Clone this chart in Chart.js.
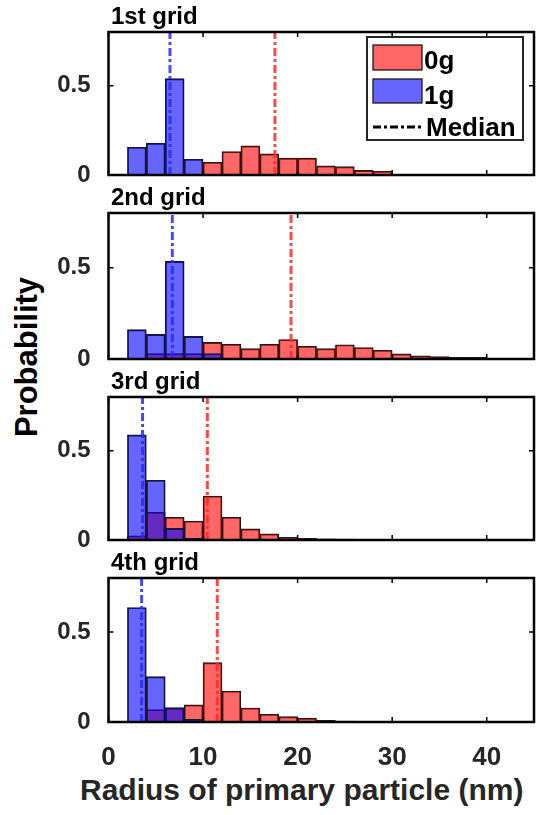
<!DOCTYPE html>
<html>
<head>
<meta charset="utf-8">
<script src="https://cdn.jsdelivr.net/npm/chart.js@4.4.1/dist/chart.umd.min.js"></script>
<style>
  body { margin: 0; background: #fff; }
  #wrap { position: relative; width: 559px; height: 815px; overflow: hidden;
          font-family: 'Liberation Sans', Arial, sans-serif; font-weight: bold; }
  #wrap canvas { position: absolute; left: 0; }
  .ptitle { position: absolute; left: 111px; font-size: 24px; line-height: 1; color: #000; white-space: nowrap; }
  #xtitle { position: absolute; left: 80px; top: 775px; font-size: 30px; line-height: 1; color: #262626; white-space: nowrap; }
  #ytitle { position: absolute; left: 26px; top: 357px; font-size: 31px; line-height: 1; color: #000; white-space: nowrap;
            transform: translate(-50%, -50%) rotate(-90deg); }
</style>
</head>
<body>
<div id="wrap">
  <div id="xtitle">Radius of primary particle (nm)</div>
  <div id="ytitle">Probability</div>
</div>
<script>
// histogram bins are 2 nm wide, starting at 2 nm
const binCenters = [3, 5, 7, 9, 11, 13, 15, 17, 19, 21, 23, 25, 27, 29, 31, 33, 35, 37, 39];

// 0g (red) probability per bin, one array per grid
const red1 = [0, 0, 0, 0, 0.071, 0.131, 0.163, 0.118, 0.094, 0.094, 0.051, 0.047, 0.026, 0.021, 0, 0, 0, 0, 0];
const red2 = [0, 0.03, 0.03, 0.03, 0.091, 0.081, 0.057, 0.081, 0.107, 0.070, 0.057, 0.078, 0.063, 0.048, 0.028, 0.017, 0.013, 0.009, 0.009];
const red3 = [0.024, 0.155, 0.127, 0.106, 0.246, 0.127, 0.062, 0.034, 0.015, 0.009, 0.006, 0.005, 0.003, 0, 0, 0, 0, 0, 0];
const red4 = [0, 0.069, 0.080, 0.095, 0.330, 0.172, 0.078, 0.043, 0.030, 0.021, 0.009, 0.005, 0.003, 0, 0, 0, 0, 0, 0];

// 1g (blue)
const blue1 = [0.155, 0.178, 0.539, 0.088, 0, 0, 0, 0, 0, 0, 0, 0, 0, 0, 0, 0, 0, 0, 0];
const blue2 = [0.161, 0.135, 0.535, 0.124, 0.03, 0, 0, 0, 0, 0, 0, 0, 0, 0, 0, 0, 0, 0, 0];
const blue3 = [0.588, 0.334, 0.065, 0.009, 0, 0, 0, 0, 0, 0, 0, 0, 0, 0, 0, 0, 0, 0, 0];
const blue4 = [0.636, 0.252, 0.078, 0.015, 0, 0, 0, 0, 0, 0, 0, 0, 0, 0, 0, 0, 0, 0, 0];

const median0g = [17.6, 19.3, 10.45, 11.5];
const median1g = [6.5, 6.75, 3.6, 3.5];

const panelTitles = ['1st grid', '2nd grid', '3rd grid', '4th grid'];
const legendLabels = ['0g', '1g', 'Median'];
const xTicks = [0, 10, 20, 30, 40];
const yTicks = [0, 0.5];
const xMax = 45;
const yMax = 0.8;

const reds = [red1, red2, red3, red4];
const blues = [blue1, blue2, blue3, blue4];

// layout of the four stacked panels (page pixels)
const plotLeft = 108.5;
const plotRight = 534;
const plotTops = [32, 213, 397, 578];
const plotBottoms = [175, 359, 540, 722];
const FONT = "'Liberation Sans', Arial, sans-serif";
const DASH = [8, 3, 3, 3];

const wrap = document.getElementById('wrap');

// black box round the axes with inward ticks on all four sides
const framePlugin = {
  id: 'frame',
  afterDatasetsDraw(chart) {
    const { ctx, chartArea: a, scales: { x, y } } = chart;
    ctx.save();
    ctx.strokeStyle = '#000';
    ctx.lineWidth = 1.5;
    ctx.beginPath();
    xTicks.forEach(v => {
      const px = x.getPixelForValue(v);
      ctx.moveTo(px, a.bottom); ctx.lineTo(px, a.bottom - 5);
      ctx.moveTo(px, a.top); ctx.lineTo(px, a.top + 5);
    });
    yTicks.forEach(v => {
      const py = y.getPixelForValue(v);
      ctx.moveTo(a.left, py); ctx.lineTo(a.left + 5, py);
      ctx.moveTo(a.right, py); ctx.lineTo(a.right - 5, py);
    });
    ctx.stroke();
    ctx.lineWidth = 2.5;
    ctx.strokeRect(a.left, a.top, a.right - a.left, a.bottom - a.top);
    ctx.restore();
  }
};

// legend box inside the first panel
const boxLegend = {
  id: 'boxLegend',
  afterDraw(chart) {
    const { ctx, chartArea: a } = chart;
    const left = a.right - 167, top = a.top + 5, w = 156, h = 103;
    ctx.save();
    ctx.fillStyle = '#fff';
    ctx.fillRect(left, top, w, h);
    ctx.strokeStyle = '#262626';
    ctx.lineWidth = 2;
    ctx.strokeRect(left, top, w, h);

    ctx.lineWidth = 1.3;
    ctx.strokeStyle = '#1a1a1a';
    ctx.fillStyle = 'rgba(255,0,0,0.6)';
    ctx.fillRect(left + 6, top + 8, 49, 25);
    ctx.strokeRect(left + 6, top + 8, 49, 25);
    ctx.fillStyle = 'rgba(0,0,255,0.6)';
    ctx.fillRect(left + 6, top + 42, 49, 24);
    ctx.strokeRect(left + 6, top + 42, 49, 24);

    ctx.strokeStyle = '#000';
    ctx.lineWidth = 3;
    ctx.setLineDash(DASH);
    ctx.beginPath();
    ctx.moveTo(left + 6, top + 90);
    ctx.lineTo(left + 56, top + 90);
    ctx.stroke();
    ctx.setLineDash([]);

    ctx.fillStyle = '#000';
    ctx.font = 'bold 26px ' + FONT;
    ctx.textBaseline = 'alphabetic';
    ctx.fillText(legendLabels[0], left + 57, top + 32);
    ctx.fillText(legendLabels[1], left + 57, top + 67);
    ctx.fillText(legendLabels[2], left + 59, top + 99);
    ctx.restore();
  }
};

const makePanel = i => {
  const isLast = i === 3;
  const padTop = 10;
  const bottomSpace = isLast ? 60 : 14;
  const canvas = document.createElement('canvas');
  canvas.width = 559;
  canvas.height = plotBottoms[i] - plotTops[i] + padTop + bottomSpace;
  canvas.style.top = (plotTops[i] - padTop) + 'px';
  wrap.appendChild(canvas);

  const title = document.createElement('div');
  title.className = 'ptitle';
  title.textContent = panelTitles[i];
  title.style.top = (plotTops[i] - 28) + 'px';
  wrap.appendChild(title);

  const medianLine = (xv, color) => ({
    type: 'line',
    data: [{ x: xv, y: 0 }, { x: xv, y: yMax }],
    borderColor: color,
    borderWidth: 3,
    borderDash: DASH,
    pointRadius: 0,
    order: 0
  });

  const histBars = (label, values, color, order) => ({
    type: 'bar',
    label: label,
    data: binCenters.map((c, k) => ({ x: c, y: values[k] })),
    backgroundColor: color,
    borderColor: '#1a1a1a',
    borderWidth: 1.2,
    grouped: false,
    barPercentage: 1,
    categoryPercentage: 1,
    order: order
  });

  new Chart(canvas, {
    type: 'bar',
    data: {
      datasets: [
        medianLine(median1g[i], 'rgba(40,40,255,0.85)'),
        medianLine(median0g[i], 'rgba(255,40,40,0.85)'),
        histBars('1g', blues[i], 'rgba(0,0,255,0.6)', 1),
        histBars('0g', reds[i], 'rgba(255,0,0,0.6)', 2)
      ]
    },
    options: {
      responsive: false,
      animation: false,
      layout: { padding: { top: padTop, bottom: isLast ? 0 : bottomSpace, left: 0, right: 559 - plotRight } },
      plugins: { legend: { display: false }, tooltip: { enabled: false } },
      scales: {
        x: {
          type: 'linear',
          min: 0,
          max: xMax,
          offset: false,
          display: isLast,
          grid: { display: false },
          border: { display: false },
          afterBuildTicks: s => { s.ticks = xTicks.map(v => ({ value: v })); },
          afterFit: s => {
            s.paddingLeft = 0; s.paddingRight = 0;
            if (isLast) s.height = bottomSpace;
          },
          ticks: {
            color: '#262626',
            font: { family: FONT, size: 26, weight: 'bold' },
            padding: 12,
            maxRotation: 0,
            autoSkip: false
          }
        },
        y: {
          min: 0,
          max: yMax,
          grid: { display: false },
          border: { display: false },
          afterBuildTicks: s => { s.ticks = yTicks.map(v => ({ value: v })); },
          afterFit: s => { s.width = plotLeft; s.paddingTop = 0; s.paddingBottom = 0; },
          ticks: {
            color: '#262626',
            font: { family: FONT, size: 24, weight: 'bold' },
            padding: 10,
            callback: v => String(v)
          }
        }
      }
    },
    plugins: i === 0 ? [framePlugin, boxLegend] : [framePlugin]
  });
};

[0, 1, 2, 3].forEach(makePanel);
</script>
</body>
</html>
